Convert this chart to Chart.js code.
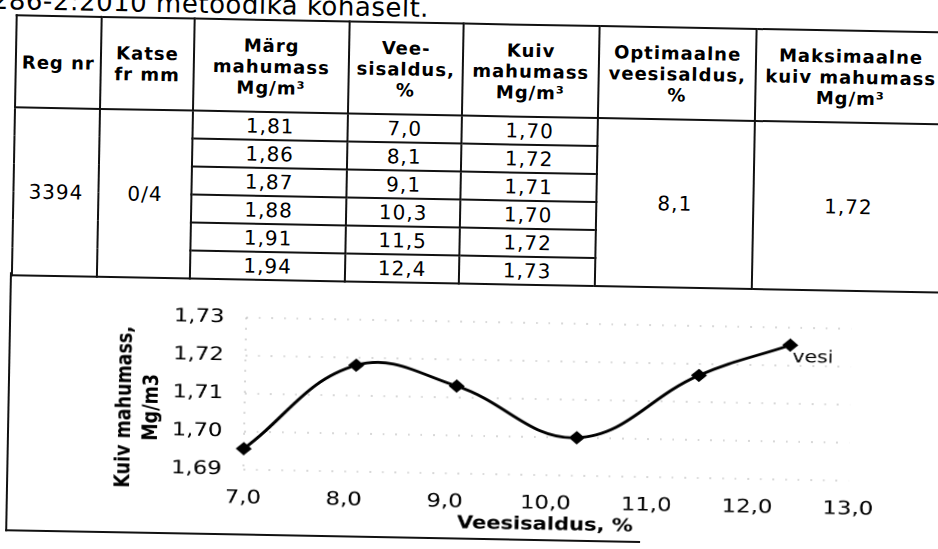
<!DOCTYPE html>
<html lang="et">
<head>
<meta charset="utf-8">
<title>Kuiv mahumass / veesisaldus</title>
<script src="https://cdn.jsdelivr.net/npm/chart.js@4/dist/chart.umd.min.js"></script>
<style>
  html, body { margin: 0; padding: 0; background: #fff; }
  body { width: 938px; height: 549px; overflow: hidden; position: relative; }
  /* the scan is turned about one degree clockwise */
  #page {
    position: absolute; left: 0; top: 0; width: 980px; height: 580px;
    transform: rotate(1.06deg); transform-origin: 0 0;
    font-family: "DejaVu Sans", Verdana, sans-serif; color: #000;
  }
  #caption {
    position: absolute; left: -150px; top: -13.5px; white-space: nowrap;
    font-size: 26px; line-height: 26px; letter-spacing: 0.5px;
  }
  table {
    position: absolute; left: 16px; top: 14px;
    border-collapse: collapse; table-layout: fixed; width: 930px;
  }
  td, th { border: 2px solid #111; text-align: center; padding: 0; }
  th { font-size: 18px; line-height: 21px; letter-spacing: 1px; font-weight: bold; height: 90px; }
  td { font-size: 20px; line-height: 22px; letter-spacing: 1px; height: 26px; vertical-align: middle; }
  #box {
    position: absolute; left: 15px; top: 272px; width: 940px; height: 259px;
    box-sizing: border-box; border-left: 2px solid #111; border-right: 2px solid #111;
  }
  #box-bottom { position: absolute; left: 15px; top: 529px; width: 635px; height: 2px; background: #111; }
  /* the chart picture was pasted in stretched sideways */
  #chart-wrap {
    position: absolute; left: 18px; top: 276px; width: 772px; height: 254px;
    transform: scaleX(1.2); transform-origin: 0 0;
  }
</style>
</head>
<body>
<div id="page">
  <div id="caption">EVS-EN 13286-2:2010 metoodika kohaselt.</div>
  <table>
    <colgroup>
      <col style="width:85px"><col style="width:93px"><col style="width:155px"><col style="width:114px">
      <col style="width:136px"><col style="width:157px"><col style="width:190px">
    </colgroup>
    <thead>
      <tr>
        <th>Reg nr</th>
        <th>Katse<br>fr mm</th>
        <th>Märg<br>mahumass<br>Mg/m³</th>
        <th>Vee-<br>sisaldus,<br>%</th>
        <th>Kuiv<br>mahumass<br>Mg/m³</th>
        <th>Optimaalne<br>veesisaldus,<br>%</th>
        <th>Maksimaalne<br>kuiv mahumass<br>Mg/m³</th>
      </tr>
    </thead>
    <tbody id="rows"></tbody>
  </table>
  <div id="box"></div>
  <div id="box-bottom"></div>
  <div id="chart-wrap"><canvas id="chart"></canvas></div>
</div>

<script>
  // Proovi andmed (tabel + graafik)
  const regNr = '3394';
  const fraction = '0/4';
  const waterContent = [7.0, 8.1, 9.1, 10.3, 11.5, 12.4];     // %
  const wetDensity = [1.81, 1.86, 1.87, 1.88, 1.91, 1.94];     // Mg/m3
  const dryDensity = [1.6955, 1.718, 1.713, 1.700, 1.717, 1.7254]; // Mg/m3, graafikult
  const optimumWater = 8.1;
  const maxDryDensity = 1.72;

  const seriesName = 'vesi';
  const xTitle = 'Veesisaldus, %';
  const yTitle = ['Kuiv mahumass,', 'Mg/m3'];
  const xRange = [7, 13];
  const yRange = [1.69, 1.73];

  const INK = '#000';
  const GRID = '#b0b0b0';
  const FONT = '"DejaVu Sans", Verdana, sans-serif';

  // 1,23 – koma kui kümnendmärk
  function fmt(value, digits) {
    return value.toFixed(digits).replace('.', ',');
  }

  const tbody = document.getElementById('rows');
  waterContent.forEach(function (w, i) {
    const tr = document.createElement('tr');
    let html = '';
    if (i === 0) {
      html += '<td rowspan="6">' + regNr + '</td><td rowspan="6">' + fraction + '</td>';
    }
    html += '<td>' + fmt(wetDensity[i], 2) + '</td><td>' + fmt(w, 1) + '</td><td>' + fmt(dryDensity[i], 2) + '</td>';
    if (i === 0) {
      html += '<td rowspan="6">' + fmt(optimumWater, 1) + '</td><td rowspan="6">' + fmt(maxDryDensity, 2) + '</td>';
    }
    tr.innerHTML = html;
    tbody.appendChild(tr);
  });

  Chart.defaults.font.family = FONT;
  Chart.defaults.color = INK;

  // Y-telje pealkiri: Excelis veidi allpool telje keskkohta
  const yAxisTitle = {
    id: 'yAxisTitle',
    afterDraw(chart) {
      const { ctx, chartArea } = chart;
      ctx.save();
      ctx.translate(chartArea.left - 99.6, chartArea.bottom - 60.5);
      ctx.rotate(-Math.PI / 2);
      ctx.font = 'bold 17.5px ' + FONT;
      ctx.fillStyle = INK;
      ctx.textAlign = 'center';
      ctx.textBaseline = 'middle';
      ctx.fillText(yTitle[0], 0, 0);
      ctx.fillText(yTitle[1], 0, 22.5);
      ctx.restore();
    }
  };

  // seeria nimi viimase punkti kõrval
  const seriesLabel = {
    id: 'seriesLabel',
    afterDatasetsDraw(chart) {
      const pts = chart.getDatasetMeta(0).data;
      const last = pts[pts.length - 1];
      const ctx = chart.ctx;
      ctx.save();
      ctx.font = '17px ' + FONT;
      ctx.fillStyle = INK;
      ctx.textAlign = 'left';
      ctx.textBaseline = 'alphabetic';
      ctx.fillText(seriesName, last.x + 2, last.y + 17);
      ctx.restore();
    }
  };

  new Chart(document.getElementById('chart'), {
    type: 'line',
    data: {
      datasets: [{
        label: seriesName,
        data: waterContent.map((x, i) => ({ x: x, y: dryDensity[i] })),
        borderColor: INK,
        borderWidth: 2.8,
        tension: 0.4,
        pointStyle: 'rectRot',
        pointRadius: 6,
        pointBackgroundColor: INK,
        pointBorderColor: INK,
        pointBorderWidth: 1,
        clip: false
      }]
    },
    options: {
      responsive: true,
      maintainAspectRatio: false,
      animation: false,
      devicePixelRatio: 2,
      layout: { padding: { top: 37, right: 72.8, bottom: 0, left: 0 } },
      plugins: { legend: { display: false }, tooltip: { enabled: false } },
      scales: {
        x: {
          type: 'linear',
          min: xRange[0],
          max: xRange[1],
          afterFit(scale) { scale.height = 65; },
          ticks: {
            stepSize: 1,
            padding: 17,
            font: { size: 19 },
            color: INK,
            callback: (v) => fmt(v, 1)
          },
          grid: {
            drawTicks: false,
            lineWidth: 1,
            // ainult y-telg (x = 7,0) on punktiirjoonena
            color: (c) => (c.tick && c.tick.value === xRange[0] ? GRID : 'transparent')
          },
          border: { display: false, dash: [1.5, 9] },
          title: {
            display: true,
            text: xTitle,
            font: { size: 17.5, weight: 'bold' },
            color: INK,
            padding: { top: 0, bottom: 4.5 }
          }
        },
        y: {
          min: yRange[0],
          max: yRange[1],
          afterFit(scale) { scale.width = 195; },
          ticks: {
            stepSize: 0.01,
            padding: 18,
            font: { size: 19 },
            color: INK,
            callback: (v) => fmt(v, 2)
          },
          grid: { drawTicks: false, lineWidth: 1, color: GRID },
          border: { display: false, dash: [1.5, 9] }
        }
      }
    },
    plugins: [yAxisTitle, seriesLabel]
  });
</script>
</body>
</html>
